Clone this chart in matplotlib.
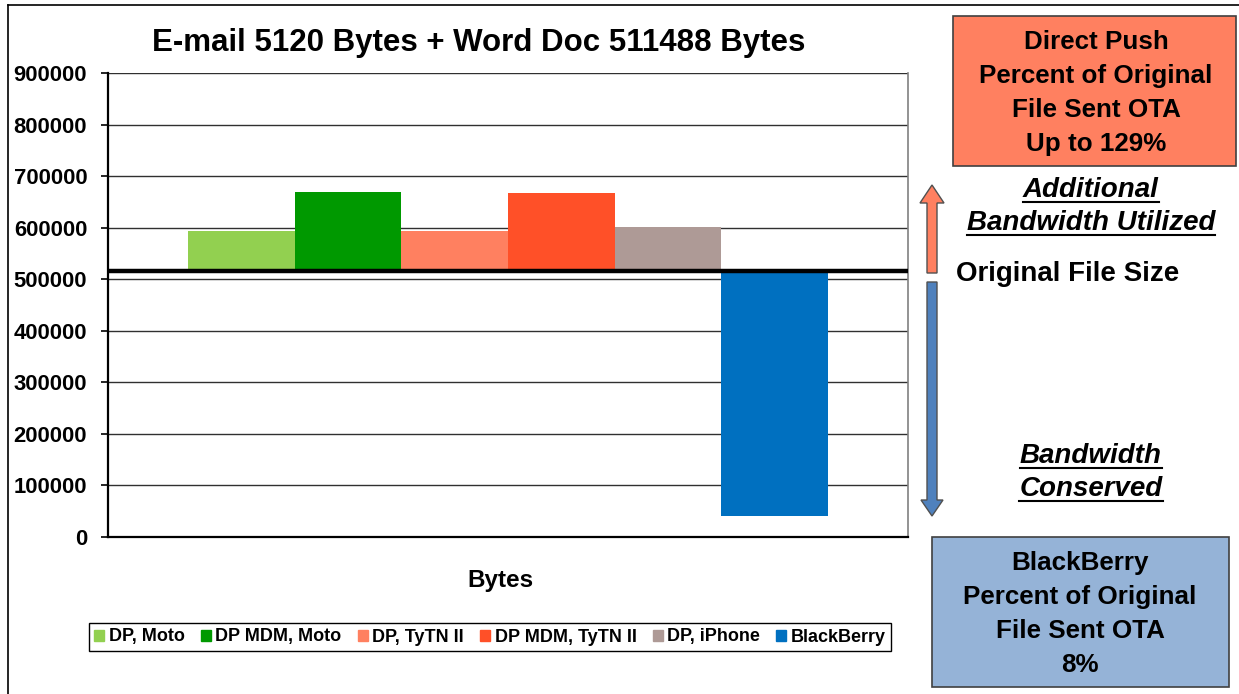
import numpy as np
import matplotlib
matplotlib.use("Agg")
import matplotlib.pyplot as plt
from matplotlib.patches import Rectangle, Polygon
from matplotlib.lines import Line2D

plt.rcParams['font.family'] = ['Liberation Sans', 'DejaVu Sans']
plt.rcParams['font.weight'] = 'bold'

# data
series = ['DP, Moto', 'DP MDM, Moto', 'DP, TyTN II', 'DP MDM, TyTN II', 'DP, iPhone', 'BlackBerry']
values = [592800, 669500, 592800, 667800, 600700, 40000]
colors = ['#92D050', '#009900', '#FF8060', '#FF5028', '#AE9A96', '#0070C0']
original_size = 5120 + 511488
yticks = [0, 100000, 200000, 300000, 400000, 500000, 600000, 700000, 800000, 900000]

W, H = 1239, 694
fig = plt.figure(figsize=(W / 100, H / 100), dpi=100)


def fx(px):
    return px / W


def fy(py):
    return 1 - py / H


ax = fig.add_axes([fx(108), fy(537), 800 / W, 464 / H])

xpos = np.arange(len(series)) + 1.25
bars = ax.bar(xpos, np.array(values) - original_size, bottom=original_size,
              width=1.0, color=colors, zorder=3)
ax.set_xlim(0, 7.5)
ax.set_ylim(0, 900000)
ax.set_yticks(yticks)
ax.set_yticklabels([str(t) for t in yticks], fontsize=15.8, fontweight='bold')
ax.yaxis.grid(True, color='#303030', lw=1.0, zorder=0)
ax.set_xticks([])
ax.tick_params(axis='y', length=5, width=1.2, pad=10)
ax.spines['left'].set_linewidth(1.6)
ax.spines['bottom'].set_linewidth(1.6)
ax.spines['right'].set_color('#808080')
ax.spines['right'].set_linewidth(1.2)
ax.spines['top'].set_visible(False)

# original file size line
ax.axhline(original_size, color='black', lw=3.2, zorder=4)

fig.text(fx(479), fy(43), 'E-mail 5120 Bytes + Word Doc 511488 Bytes',
         ha='center', va='center', fontsize=22.5, fontweight='bold')
fig.text(fx(500), fy(581), 'Bytes', ha='center', va='center', fontsize=17.5, fontweight='bold')

handles = [Rectangle((0, 0), 1, 1, color=c) for c in colors]
leg = fig.legend(handles, series, loc='center', ncol=6,
                 bbox_to_anchor=(fx(490), fy(637)),
                 prop={'weight': 'bold', 'size': 13},
                 handlelength=0.55, handleheight=0.55, handletextpad=0.25,
                 columnspacing=0.9, fancybox=False, edgecolor='black',
                 framealpha=1, borderpad=0.3)
leg.get_frame().set_linewidth(1.0)

# outer frame
fig.add_artist(Line2D([fx(8), fx(8)], [fy(5), fy(694)], color='black', lw=1.2))
fig.add_artist(Line2D([fx(8), fx(1239)], [fy(5), fy(5)], color='black', lw=1.2))

# side boxes
fig.add_artist(Rectangle((fx(953), fy(166)), (1236 - 953) / W, 150 / H,
                         facecolor='#FF8060', edgecolor='#404040', lw=1.2))
for i, line in enumerate(['Direct Push', 'Percent of Original', 'File Sent OTA', 'Up to 129%']):
    fig.text(fx(1096), fy(42 + i * 34), line, ha='center', va='center', fontsize=18.7, fontweight='bold')

fig.add_artist(Rectangle((fx(932), fy(687)), (1229 - 932) / W, 150 / H,
                         facecolor='#95B3D7', edgecolor='#404040', lw=1.2))
for i, line in enumerate(['BlackBerry', 'Percent of Original', 'File Sent OTA', '8%']):
    fig.text(fx(1080), fy(563 + i * 34), line, ha='center', va='center', fontsize=18.7, fontweight='bold')

fig.text(fx(956), fy(274), 'Original File Size', ha='left', va='center', fontsize=20, fontweight='bold')

underlined = []
for txt, y in [('Additional', 190), ('Bandwidth Utilized', 223), ('Bandwidth', 456), ('Conserved', 489)]:
    t = fig.text(fx(1091), fy(y), txt, ha='center', va='center', fontsize=20,
                 fontweight='bold', fontstyle='italic')
    underlined.append(t)


# arrows
def arrow(x, y_tail, y_head_base, y_tip, half_shaft, half_head, fc):
    pts = [(x - half_shaft, y_tail), (x - half_shaft, y_head_base), (x - half_head, y_head_base),
           (x, y_tip), (x + half_head, y_head_base), (x + half_shaft, y_head_base), (x + half_shaft, y_tail)]
    fig.add_artist(Polygon([(fx(a), fy(b)) for a, b in pts], closed=True,
                           facecolor=fc, edgecolor='#505050', lw=1.0))


arrow(932, 273, 203, 185, 5, 12, '#FF8060')
arrow(932, 282, 500, 516, 5, 11, '#4F81BD')

fig.canvas.draw()
r = fig.canvas.get_renderer()
for t in underlined:
    bb = t.get_window_extent(r)
    y = bb.y0 + 1
    fig.add_artist(Line2D([bb.x0 / W, bb.x1 / W], [y / H, y / H], color='black', lw=1.5))

fig.savefig('out.png', dpi=100)
